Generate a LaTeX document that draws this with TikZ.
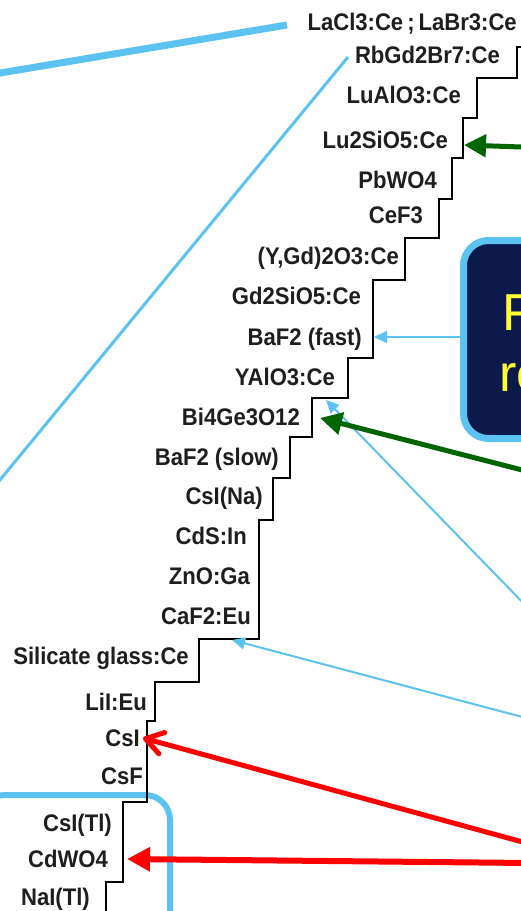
\documentclass[tikz,border=0pt]{standalone}
\usepackage{fontspec}
\setmainfont{Liberation Sans}
\newfontfamily\lblfont[FakeStretch=0.92]{Liberation Sans Bold}
\usetikzlibrary{arrows.meta}
\definecolor{sky}{HTML}{5CC2F2}
\definecolor{navy}{HTML}{0C1A4B}
\definecolor{hiyellow}{HTML}{FFFF33}
\definecolor{darkgreen}{HTML}{006400}
\definecolor{labelgray}{HTML}{1E1E1E}
\begin{document}
\begin{tikzpicture}[x=1pt,y=-1pt,
  lbl/.style={anchor=base east, inner sep=0pt, text=labelgray,
    font=\lblfont\fontsize{24}{24}\selectfont},
  stair/.style={line width=1.8pt, black, line join=miter},
  skythin/.style={draw=sky, line width=2pt, -{Triangle[length=13pt,width=12pt]}},
  greenarrow/.style={draw=darkgreen, line width=5pt, -{Triangle[length=22pt,width=22pt]}},
  redfilled/.style={draw=red, line width=6pt, -{Triangle[length=23pt,width=23pt]}},
  redopen/.style={draw=red, line width=5pt, -{Straight Barb[length=17pt,width=22pt,round]}},
  bigtext/.style={anchor=base west, inner sep=0pt, text=hiyellow,
    font=\fontsize{52}{52}\selectfont}]
\useasboundingbox (0,0) rectangle (520,911);

% sky-blue guide lines on the left
\draw[sky, line width=7pt] (-10,74.7) -- (287,25);
\draw[sky, line width=3pt] (348,57) -- (-5,486);

% navy callout box (right) and framed group (bottom left)
\draw[sky, line width=7pt, fill=navy, rounded corners=25pt] (463.5,240.5) rectangle (640,438.5);
\node[bigtext] (fline) at (502,330) {F};
\node[bigtext] (rline) at (499,391) {re};
\draw[sky, line width=6pt, rounded corners=25pt] (-20,795) rectangle (170,960);

% staircase
\draw[stair] (521,47) -- (517,47) -- (517,78) -- (477,78) -- (477,118) -- (463,118)
  -- (463,158) -- (452,158) -- (452,199) -- (439,199) -- (439,238) -- (405,238)
  -- (405,280) -- (373,280) -- (373,358) -- (348,358) -- (348,398) -- (312,398)
  -- (312,437) -- (290,437) -- (290,478) -- (273,478) -- (273,520) -- (259,520)
  -- (259,639) -- (199,639) -- (199,682) -- (155,682) -- (155,721) -- (147,721)
  -- (147,802) -- (123,802) -- (123,882) -- (106,882) -- (106,915);

% material labels
\node[lbl] (lacl)  at (517,30)  {LaCl3:Ce\,;\,LaBr3:Ce};
\node[lbl] (rbgd)  at (500,63)  {RbGd2Br7:Ce};
\node[lbl] (lualo) at (461,103) {LuAlO3:Ce};
\node[lbl] (luso)  at (448,148) {Lu2SiO5:Ce};
\node[lbl] (pbwo)  at (437,188) {PbWO4};
\node[lbl] (cef)   at (423,223) {CeF3};
\node[lbl] (ygd)   at (399,264) {(Y,Gd)2O3:Ce};
\node[lbl] (gso)   at (361,304) {Gd2SiO5:Ce};
\node[lbl] (bafast) at (362,345) {BaF2 (fast)};
\node[lbl] (yap)   at (335,385) {YAlO3:Ce};
\node[lbl] (bgo)   at (300,425) {Bi4Ge3O12};
\node[lbl] (baslow) at (279,465) {BaF2 (slow)};
\node[lbl] (csina) at (263,504) {CsI(Na)};
\node[lbl] (cds)   at (247,544) {CdS:In};
\node[lbl] (zno)   at (250,584) {ZnO:Ga};
\node[lbl] (caf)   at (251,624) {CaF2:Eu};
\node[lbl] (sil)   at (189,664) {Silicate glass:Ce};
\node[lbl] (lii)   at (147,710) {LiI:Eu};
\node[lbl] (csi)   at (140,746) {CsI};
\node[lbl] (csf)   at (143,784) {CsF};
\node[lbl] (csitl) at (112,831) {CsI(Tl)};
\node[lbl] (cdwo)  at (108,867) {CdWO4};
\node[lbl] (nai)   at (90,905)  {NaI(Tl)};

% arrow end points
\coordinate (boxw) at (460,337);
\coordinate (tipfast) at (374,337);
\coordinate (srcyap) at (530,610);
\coordinate (tipyap) at (326,400);
\coordinate (srccaf) at (530,719);
\coordinate (tipcaf) at (232,640);
\coordinate (srcluso) at (530,147.3);
\coordinate (tipluso) at (464,145);
\coordinate (srcbgo) at (530,472);
\coordinate (tipbgo) at (320,418);
\coordinate (srccsi) at (530,844);
\coordinate (tipcsi) at (143,738);
\coordinate (srccdwo) at (530,863);
\coordinate (tipcdwo) at (127,859);

% pointers
\draw[skythin] (boxw) -- (tipfast);
\draw[skythin] (srcyap) -- (tipyap);
\draw[skythin] (srccaf) -- (tipcaf);
\draw[greenarrow] (srcluso) -- (tipluso);
\draw[greenarrow] (srcbgo) -- (tipbgo);
\draw[redopen] (srccsi) -- (tipcsi);
\draw[redfilled] (srccdwo) -- (tipcdwo);
\end{tikzpicture}
\end{document}
